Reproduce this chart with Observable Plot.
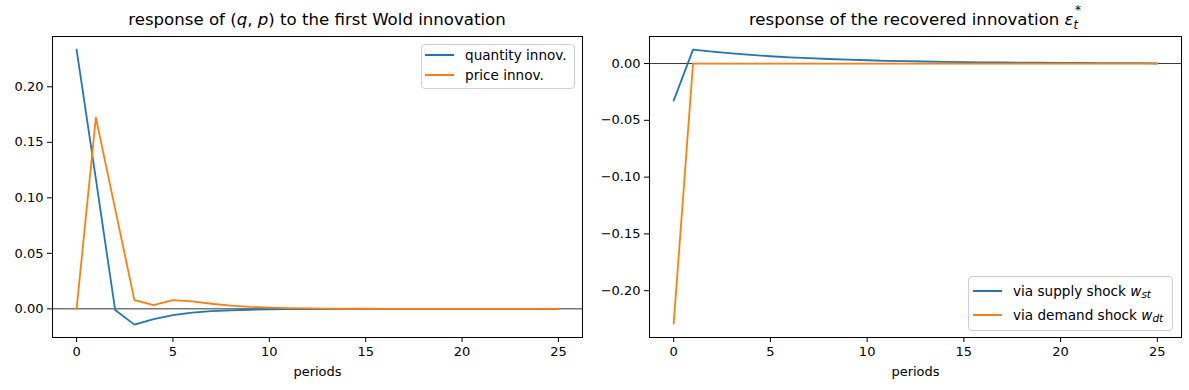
<!DOCTYPE html>
<html><head><meta charset="utf-8">
<script src="https://cdn.jsdelivr.net/npm/d3@7"></script>
<script src="https://cdn.jsdelivr.net/npm/@observablehq/plot@0.6"></script>
<style>
body{margin:0;background:#fff;font-family:"DejaVu Sans",sans-serif;color:#000}
#wrap{position:relative;width:1189px;height:390px}
.panel{position:absolute;top:30px}
.title{position:absolute;top:10px;font-size:16.6px;line-height:20px;white-space:nowrap;transform:translateX(-50%)}
.legend{position:absolute;border:1px solid #d0d0d0;border-radius:4px;background:rgba(255,255,255,0.85);font-size:13.6px;box-sizing:border-box}
.legend div{display:flex;align-items:center}
.legend span.sw{display:inline-block;width:29px;height:2px;margin-right:11px}
.legend sub{font-size:10.5px;position:relative;top:3px;vertical-align:baseline}
.title sub{font-size:11.5px;line-height:1;vertical-align:baseline;position:relative;top:4px}
.title sup{font-size:12px;line-height:1;vertical-align:baseline;position:relative;top:-11px}
</style></head>
<body><div id="wrap"></div>
<script>
const periods = d3.range(0, 26);
const quantityInnov = [0.2335, 0.117, -0.001, -0.0142, -0.0092, -0.0057, -0.0034, -0.0021, -0.0013, -0.0008, -0.0005, -0.0003, -0.0002, -0.0001, -0.0001, 0, 0, 0, 0, 0, 0, 0, 0, 0, 0, 0];
const priceInnov = [0, 0.1722, 0.090, 0.0079, 0.0033, 0.0079, 0.0068, 0.0046, 0.0030, 0.0018, 0.0011, 0.0006, 0.0004, 0.0002, 0.0001, 0.0001, 0, 0, 0, 0, 0, 0, 0, 0, 0, 0];
const viaSupply = [-0.0326, 0.0123, 0.0105, 0.0089, 0.0076, 0.0064, 0.0055, 0.0047, 0.0040, 0.0034, 0.0029, 0.0024, 0.0021, 0.0018, 0.0015, 0.0013, 0.0011, 0.0009, 0.0008, 0.0007, 0.0006, 0.0005, 0.0004, 0.0003, 0.0003, 0.0002];
const viaDemand = [-0.229, 0, 0, 0, 0, 0, 0, 0, 0, 0, 0, 0, 0, 0, 0, 0, 0, 0, 0, 0, 0, 0, 0, 0, 0, 0];
const xTicks = [0, 5, 10, 15, 20, 25];
const leftYTicks = [0, 0.05, 0.10, 0.15, 0.20];
const rightYTicks = [0, -0.05, -0.10, -0.15, -0.20];
const blue = "#1f77b4", orange = "#ff7f0e";

function panel(series, yDomain, yTicks, width, mLeft, mRight) {
  const rows = [];
  series.forEach(s => s.values.forEach((v, i) => rows.push({t: periods[i], v, name: s.name, color: s.color})));
  return Plot.plot({
    width, height: 360,
    marginTop: 6, marginBottom: 53, marginLeft: mLeft, marginRight: mRight,
    style: {fontSize: "13px", fontFamily: "DejaVu Sans", color: "#000", background: "transparent"},
    x: {domain: [-1.25, 26.25]},
    y: {domain: yDomain},
    marks: [
      Plot.ruleY([0], {stroke: "#000", strokeWidth: 0.8}),
      Plot.line(rows, {x: "t", y: "v", z: "name", stroke: "color", strokeWidth: 1.8}),
      Plot.frame({stroke: "#000", strokeWidth: 1}),
      Plot.axisX({ticks: xTicks, tickSize: 5, tickPadding: 4, label: "periods", labelAnchor: "center", labelArrow: "none", labelOffset: 38, tickFormat: d3.format("d")}),
      Plot.axisY({ticks: yTicks, tickSize: 5, tickPadding: 4, label: null, tickFormat: d3.format(".2f")})
    ]
  });
}

const wrap = document.getElementById("wrap");

const p1 = document.createElement("div"); p1.className = "panel"; p1.style.left = "0px";
p1.appendChild(panel([
  {name: "quantity innov.", values: quantityInnov, color: blue},
  {name: "price innov.", values: priceInnov, color: orange}
], [-0.0258, 0.2453], leftYTicks, 598, 52, 16));
wrap.appendChild(p1);

const p2 = document.createElement("div"); p2.className = "panel"; p2.style.left = "597px";
p2.appendChild(panel([
  {name: "via supply shock", values: viaSupply, color: blue},
  {name: "via demand shock", values: viaDemand, color: orange}
], [-0.2412, 0.0238], rightYTicks, 592, 52, 8));
wrap.appendChild(p2);

const t1 = document.createElement("div"); t1.className = "title"; t1.style.left = "317px";
t1.innerHTML = "response of (<i>q</i>, <i>p</i>) to the first Wold innovation";
wrap.appendChild(t1);
const t2 = document.createElement("div"); t2.className = "title"; t2.style.left = "915px";
t2.innerHTML = "response of the recovered innovation <i>ε</i><sub style='margin-right:-3px'><i>t</i></sub><sup>*</sup>";
wrap.appendChild(t2);

const l1 = document.createElement("div"); l1.className = "legend";
Object.assign(l1.style, {left: "421px", top: "44px", width: "154px", height: "45px", padding: "0 0 0 3px"});
l1.innerHTML = `<div style="height:20px"><span class="sw" style="background:${blue}"></span>quantity innov.</div><div style="height:20px"><span class="sw" style="background:${orange}"></span>price innov.</div>`;
wrap.appendChild(l1);
const l2 = document.createElement("div"); l2.className = "legend";
Object.assign(l2.style, {left: "968px", top: "276px", width: "205px", height: "55px", padding: "2px 0 0 4px"});
l2.innerHTML = `<div style="height:24px"><span class="sw" style="background:${blue}"></span>via supply shock&nbsp;<i>w</i><sub><i>st</i></sub></div><div style="height:24px"><span class="sw" style="background:${orange}"></span>via demand shock&nbsp;<i>w</i><sub><i>dt</i></sub></div>`;
wrap.appendChild(l2);
</script></body></html>
